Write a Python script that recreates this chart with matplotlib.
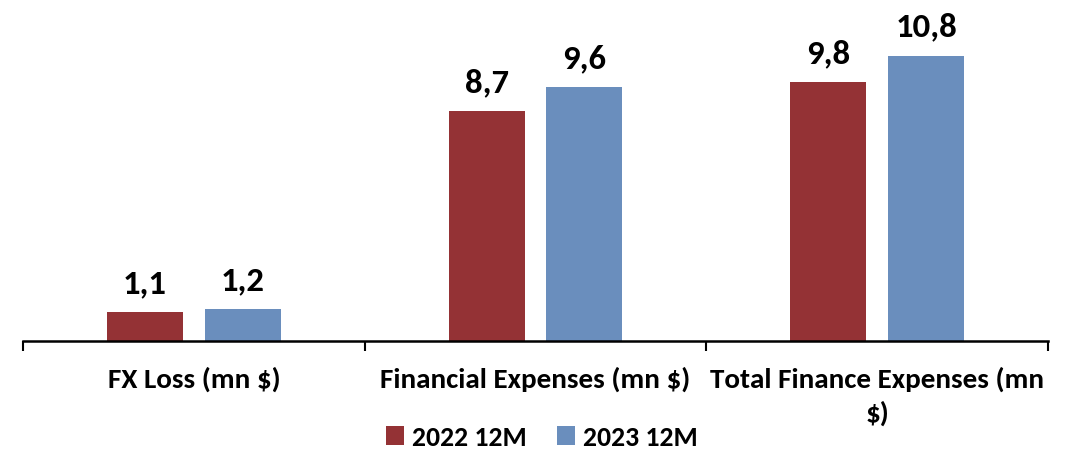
import numpy as np
import matplotlib.pyplot as plt

# Data
categories = ['FX Loss (mn $)', 'Financial Expenses (mn $)', 'Total Finance Expenses (mn\n$)']
v2022 = [1.1, 8.7, 9.8]
v2023 = [1.2, 9.6, 10.8]
series_names = ['2022 12M', '2023 12M']

plt.rcParams['font.family'] = ['Carlito', 'Lato', 'DejaVu Sans']
plt.rcParams['font.weight'] = 'bold'

fig = plt.figure(figsize=(10.82, 4.52), dpi=100)
ax = fig.add_axes([0.0213, 0.2434, 0.9473, 0.7566])

x = np.arange(len(categories))
w = 0.222
off = 0.143
b1 = ax.bar(x - off, v2022, w, color='#943235', label=series_names[0])
b2 = ax.bar(x + off, v2023, w, color='#6a8ebd', label=series_names[1])

# value labels above bars
for bars, vals in [(b1, v2022), (b2, v2023)]:
    for r, v in zip(bars, vals):
        ax.annotate(f'{v:.1f}'.replace('.', ','),
                    (r.get_x() + r.get_width() / 2, v),
                    xytext=(0, 14.5), textcoords='offset points',
                    ha='center', va='baseline', fontsize=25, fontweight='bold')

ax.set_xlim(-0.5, 2.5)
ax.set_ylim(0, 12.95)
for s in ['top', 'right', 'left']:
    ax.spines[s].set_visible(False)
ax.spines['bottom'].set_linewidth(1.8)
ax.set_yticks([])

# boundary ticks between categories, labels drawn as text
ax.set_xticks([-0.5, 0.5, 1.5, 2.5])
ax.set_xticklabels([])
ax.tick_params(axis='x', length=7, width=1.5, direction='out')
for i, c in enumerate(categories):
    ax.annotate(c, (i, 0), xytext=(0, -18), textcoords='offset points',
                ha='center', va='top', fontsize=21, fontweight='bold', linespacing=1.4)

fig.legend(loc='lower center', bbox_to_anchor=(0.501, 0.004), ncol=2, frameon=False,
           handlelength=0.63, handleheight=0.63, handletextpad=0.3,
           columnspacing=1.1, borderpad=0, borderaxespad=0,
           prop={'weight': 'bold', 'size': 20})

fig.savefig('out.png', dpi=100)
